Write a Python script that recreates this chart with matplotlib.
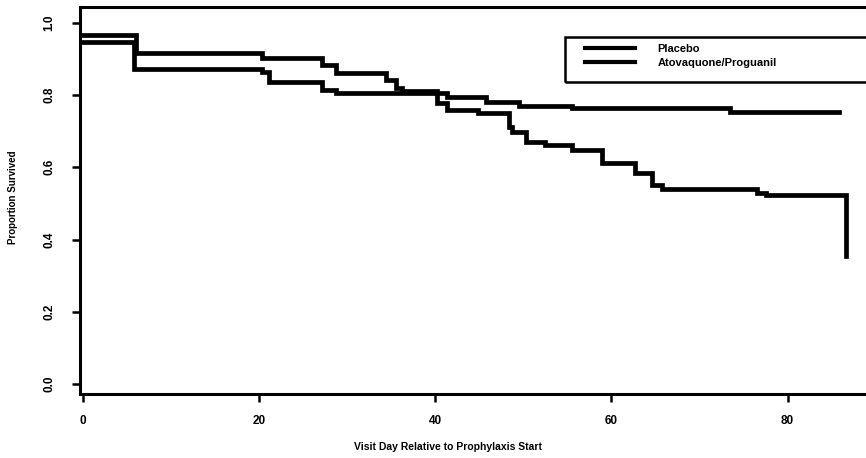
import matplotlib
matplotlib.use("Agg")
import matplotlib.pyplot as plt
from matplotlib.patches import Rectangle

plt.rcParams['font.family'] = ['Liberation Sans', 'DejaVu Sans']
plt.rcParams['font.weight'] = 'bold'

# Kaplan-Meier step data
placebo_days = [0, 6.07, 20.35, 27.15, 28.7, 34.4, 35.5, 36.2, 40.2, 41.3, 44.9, 48.4,
                48.7, 50.3, 52.5, 55.5, 58.9, 62.7, 64.6, 65.7, 76.5, 77.5, 86.6]
placebo_surv = [0.967, 0.917, 0.903, 0.884, 0.862, 0.843, 0.820, 0.810, 0.779, 0.760, 0.751, 0.713,
                0.699, 0.671, 0.663, 0.649, 0.613, 0.585, 0.550, 0.541, 0.530, 0.522, 0.354]

atq_days = [0, 5.84, 20.35, 21.1, 27.15, 28.7, 41.3, 45.7, 49.5, 55.5, 73.5, 85.8]
atq_surv = [0.948, 0.873, 0.865, 0.837, 0.815, 0.807, 0.795, 0.782, 0.771, 0.765, 0.754, 0.754]

labels = ["Placebo", "Atovaquone/Proguanil"]
x_ticks = [0, 20, 40, 60, 80]
y_ticks = [0.0, 0.2, 0.4, 0.6, 0.8, 1.0]

fig = plt.figure(figsize=(8.66, 4.58), dpi=100)
ax = fig.add_axes([0.0924, 0.1397, 0.9076, 0.845])

ax.step(placebo_days, placebo_surv, where='post', color='black', lw=3.4,
        solid_joinstyle='miter', label=labels[0])
ax.step(atq_days, atq_surv, where='post', color='black', lw=3.4,
        solid_joinstyle='miter', label=labels[1])

ax.set_xlim(-0.34, 88.9)
ax.set_ylim(-0.028, 1.044)
ax.set_xticks(x_ticks)
ax.set_xticklabels([str(v) for v in x_ticks], fontsize=8.5, fontweight='bold')
ax.set_yticks(y_ticks)
ax.set_yticklabels([f"{v:.1f}" for v in y_ticks], fontsize=8.5, fontweight='bold',
                   rotation=90, va='center')

ax.spines['right'].set_visible(False)
for s in ['left', 'bottom', 'top']:
    ax.spines[s].set_linewidth(2.2)

ax.tick_params(axis='both', direction='out', length=6, width=1.8)
ax.tick_params(axis='x', pad=9)
ax.tick_params(axis='y', pad=12)

ax.set_xlabel("Visit Day Relative to Prophylaxis Start", fontsize=7.5, fontweight='bold')
ax.set_ylabel("Proportion Survived", fontsize=7, fontweight='bold')
ax.xaxis.set_label_coords(0.468, -0.124)
ax.yaxis.set_label_coords(-0.079, 0.509)

# legend frame and entries
ax.add_patch(Rectangle((0.617, 0.806), 0.45, 0.116, transform=ax.transAxes,
                       fill=False, edgecolor='black', lw=1.8, clip_on=False, zorder=5))
leg = ax.legend(loc='upper left', bbox_to_anchor=(0.6425, 0.905), frameon=False,
                borderpad=0, borderaxespad=0, handlelength=4.5, handletextpad=2.0,
                labelspacing=0.35, prop={'size': 8, 'weight': 'bold'})
for h in leg.get_lines():
    h.set_linewidth(3)

fig.savefig("out.png", dpi=100)
